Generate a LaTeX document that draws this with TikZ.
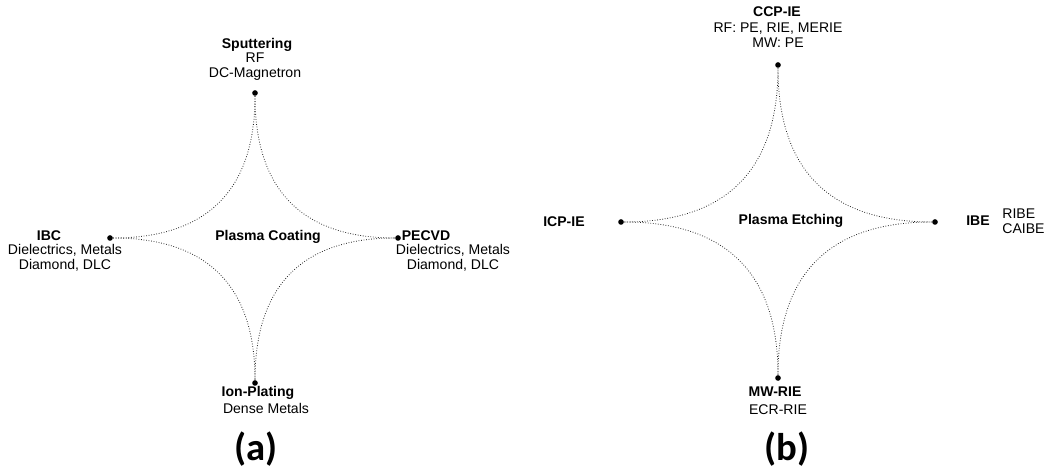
\documentclass[tikz,border=0pt]{standalone}
\usepackage{fontspec}
\setmainfont{Liberation Sans}
\newfontfamily\capfont{Carlito}
\usetikzlibrary{calc}
\tikzset{
dot/.style = {circle,fill=black,inner sep=0pt,minimum size=3.2pt},
astro/.style = {densely dotted,line width=0.45pt,color=black!85},
head/.style = {font=\fontsize{8}{8.6}\selectfont\bfseries},
info/.style = {font=\fontsize{8}{8.6}\selectfont,align=center,inner sep=0pt},
title/.style = {font=\fontsize{8}{9}\selectfont\bfseries},
tag/.style = {font=\fontsize{22}{24}\selectfont\capfont\bfseries,inner sep=0pt}
}

\begin{document}
\begin{tikzpicture}[x=0.02cm,y=-0.02cm]
%
\useasboundingbox (0,0) rectangle (1049,469);
%
\def\k{0.33}
%
% plasma coating
\coordinate (a-c) at (255,238);
\node[dot] (a-top) at (255,93){};
\node[dot] (a-rgt) at (398,238){};
\node[dot] (a-bot) at (255,383){};
\node[dot] (a-lft) at (110,238){};
%
\foreach \p/\q in {top/rgt,rgt/bot,bot/lft,lft/top}{
\draw[astro] (a-\p) .. controls ($(a-c)!\k!(a-\p)$) and ($(a-c)!\k!(a-\q)$) .. (a-\q);
}
%
\node[title] (a-name) at (268,237){Plasma Coating};
\node[head] (spt) at (257,45){Sputtering};
\node[info] (spt-d) at (255,66.5){RF\\DC-Magnetron};
\node[head] (ibc) at (49,236){IBC};
\node[info] (ibc-d) at (65,258){Dielectrics, Metals\\Diamond, DLC};
\node[head] (pecvd) at (426,236){PECVD};
\node[info] (pecvd-d) at (453,258){Dielectrics, Metals\\Diamond, DLC};
\node[head] (ion) at (258,393){Ion-Plating};
\node[info] (ion-d) at (266,408){Dense Metals};
\node[tag] (a-tag) at (256,449){(a)};
%
% plasma etching
\coordinate (b-c) at (778,222);
\node[dot] (b-top) at (778,65){};
\node[dot] (b-rgt) at (935,222){};
\node[dot] (b-bot) at (778,378){};
\node[dot] (b-lft) at (621,222){};
%
\foreach \p/\q in {top/rgt,rgt/bot,bot/lft,lft/top}{
\draw[astro] (b-\p) .. controls ($(b-c)!\k!(b-\p)$) and ($(b-c)!\k!(b-\q)$) .. (b-\q);
}
%
\node[title] (b-name) at (791,221){Plasma Etching};
\node[head] (ccp) at (777,12){CCP-IE};
\node[info] (ccp-d) at (778,35.5){RF: PE, RIE, MERIE\\MW: PE};
\node[head] (icp) at (564,222){ICP-IE};
\node[head] (ibe) at (978,221){IBE};
\node[info,align=left,anchor=west] (ibe-d) at (1002,221){RIBE\\CAIBE};
\node[head] (mw) at (775,392){MW-RIE};
\node[info] (mw-d) at (778,410){ECR-RIE};
\node[tag] (b-tag) at (787,449){(b)};
%
\end{tikzpicture}
\end{document}
